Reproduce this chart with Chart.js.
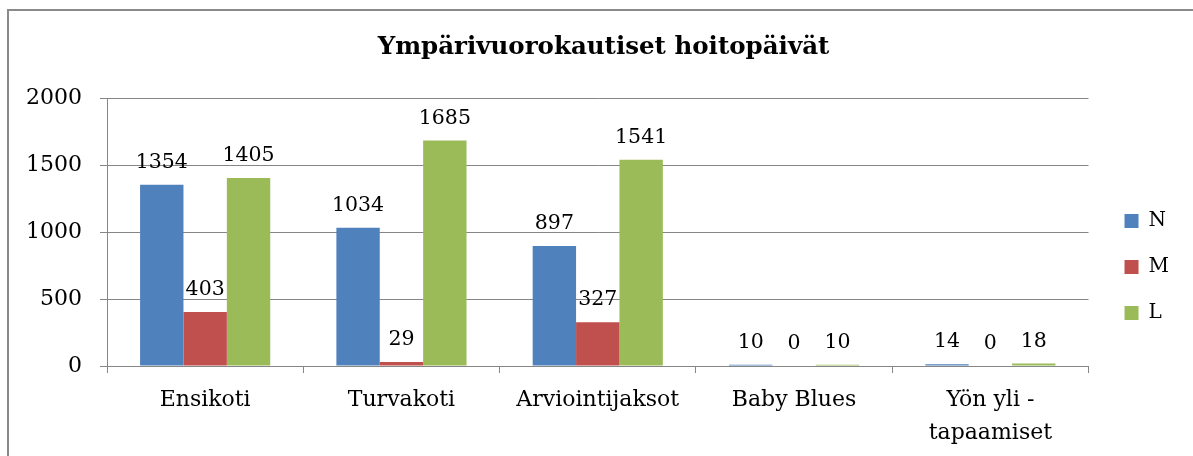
<!DOCTYPE html>
<html>
<head>
  <meta charset="UTF-8">
  <title>Ympärivuorokautiset hoitopäivät</title>
  <script src="https://cdn.jsdelivr.net/npm/chart.js"></script>
  <style>
    html, body { margin: 0; padding: 0; background: #fff; }
    .wrap { position: relative; width: 1193px; height: 456px; overflow: hidden; }
    .frame { position: absolute; left: 7px; top: 9px; width: 1300px; height: 600px;
             border-left: 2px solid #8a8a8a; border-top: 2px solid #8a8a8a; }
    canvas { position: absolute; left: 0; top: 0; }
  </style>
</head>
<body>
  <div class="wrap">
    <div class="frame"></div>
    <canvas id="chart" width="1193" height="456"></canvas>
  </div>

  <script>
    // data
    const categories = ['Ensikoti', 'Turvakoti', 'Arviointijaksot', 'Baby Blues', ['Yön yli -', 'tapaamiset']];
    const seriesN = [1354, 1034, 897, 10, 14];
    const seriesM = [403, 29, 327, 0, 0];
    const seriesL = [1405, 1685, 1541, 10, 18];
    const yTicks = [0, 500, 1000, 1500, 2000];

    const FONT = "'DejaVu Serif', 'Liberation Serif', serif";
    const GRID = '#868686';

    // value labels above each bar
    const valueLabels = {
      id: 'valueLabels',
      afterDatasetsDraw(chart) {
        const ctx = chart.ctx;
        ctx.save();
        ctx.font = '20.5px ' + FONT;
        ctx.fillStyle = '#000';
        ctx.textAlign = 'center';
        ctx.textBaseline = 'alphabetic';
        chart.data.datasets.forEach((ds, i) => {
          chart.getDatasetMeta(i).data.forEach((bar, j) => {
            ctx.fillText(String(ds.data[j]), bar.x, bar.y - 17);
          });
        });
        ctx.restore();
      }
    };

    // nudge legend and title to the right, as in the original
    const boxShift = {
      id: 'boxShift',
      afterLayout(chart) {
        if (chart.legend) {
          chart.legend.left += 10;
          chart.legend.right += 10;
        }
        if (chart.titleBlock) {
          chart.titleBlock.left += 19;
          chart.titleBlock.right += 19;
        }
      }
    };

    new Chart(document.getElementById('chart'), {
      type: 'bar',
      data: {
        labels: categories,
        datasets: [
          { label: 'N', data: seriesN, backgroundColor: '#4F81BD' },
          { label: 'M', data: seriesM, backgroundColor: '#C0504D' },
          { label: 'L', data: seriesL, backgroundColor: '#9BBB59' }
        ]
      },
      options: {
        responsive: false,
        animation: false,
        layout: { padding: { left: 0, right: 24, top: 0, bottom: 0 } },
        datasets: { bar: { barPercentage: 1, categoryPercentage: 0.663 } },
        plugins: {
          title: {
            display: true,
            text: 'Ympärivuorokautiset hoitopäivät',
            color: '#000',
            font: { family: FONT, size: 24.5, weight: 'bold' },
            padding: { top: 33, bottom: 36 }
          },
          legend: {
            position: 'right',
            title: { display: true, text: '', font: { size: 20 }, padding: { top: 27, bottom: 27 } },
            labels: {
              color: '#000',
              font: { family: FONT, size: 20 },
              boxWidth: 14,
              boxHeight: 14,
              padding: 26
            }
          },
          tooltip: { enabled: false }
        },
        scales: {
          x: {
            afterFit: s => { s.height = 90; },
            grid: { drawOnChartArea: false, drawTicks: true, tickLength: 7, color: GRID },
            border: { color: GRID, width: 1 },
            ticks: { color: '#000', font: { family: FONT, size: 22, lineHeight: 1.5 }, padding: 11, maxRotation: 0 }
          },
          y: {
            min: 0,
            max: 2000,
            afterFit: s => { s.width = 107; },
            afterBuildTicks: s => { s.ticks = yTicks.map(v => ({ value: v })); },
            grid: { color: GRID, tickLength: 7 },
            border: { color: GRID, width: 1 },
            ticks: { color: '#000', font: { family: FONT, size: 22 }, padding: 18, callback: v => String(v) }
          }
        }
      },
      plugins: [valueLabels, boxShift]
    });
  </script>
</body>
</html>
